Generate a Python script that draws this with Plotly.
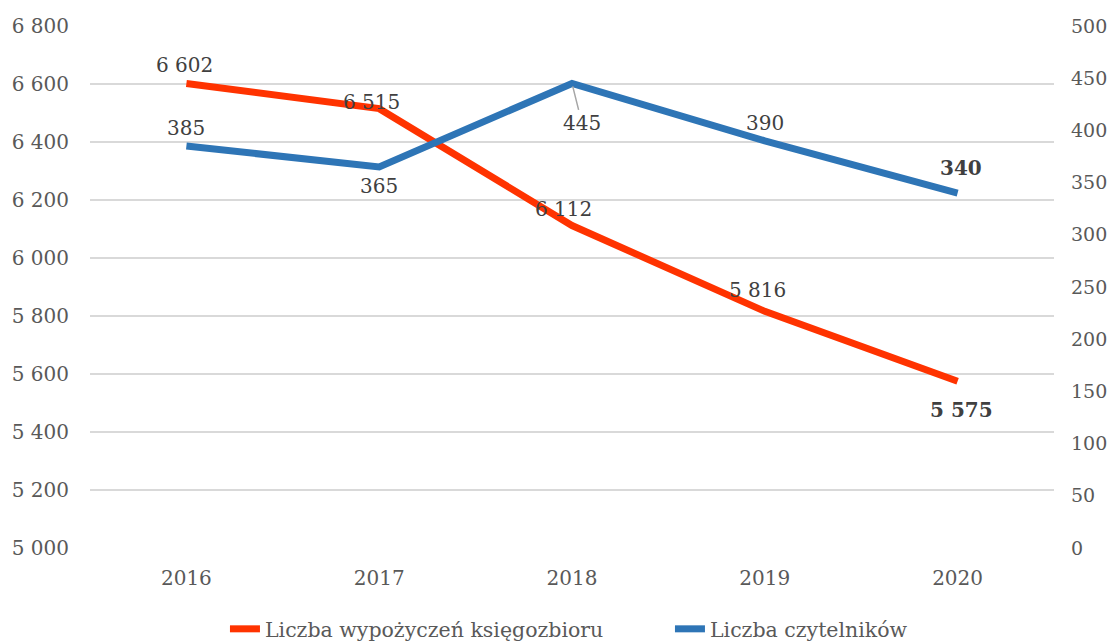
import plotly.graph_objects as go

years = ['2016', '2017', '2018', '2019', '2020']
wypozyczenia = [6602, 6515, 6112, 5816, 5575]
czytelnicy = [385, 365, 445, 390, 340]

left_ticks = list(range(5000, 6801, 200))
right_ticks = list(range(0, 501, 50))

RED = '#FF3300'
BLUE = '#2E75B6'
FONT = 'DejaVu Serif'


def fmt(v):
    # spacja jako separator tysięcy
    return f'{v:,}'.replace(',', ' ')


fig = go.Figure()
fig.add_trace(go.Scatter(
    x=years, y=wypozyczenia, mode='lines',
    name='Liczba wypożyczeń księgozbioru',
    line=dict(color=RED, width=7),
))
fig.add_trace(go.Scatter(
    x=years, y=czytelnicy, mode='lines', yaxis='y2',
    name='Liczba czytelników',
    line=dict(color=BLUE, width=7),
))

# przesunięcia etykiet (px)
red_shift = [(-2, 18), (-8, 7), (-9, 17), (-7, 21), (4, -29)]
blue_shift = [(0, 18), (0, -19), None, (0, 18), (3, 25)]

# na osi kategorii adnotacje ustawiamy po indeksie
for i, v in enumerate(wypozyczenia):
    last = i == len(years) - 1
    fig.add_annotation(
        x=i, y=v, yref='y', text=f'<b>{fmt(v)}</b>' if last else fmt(v),
        showarrow=False, xshift=red_shift[i][0], yshift=red_shift[i][1],
        font=dict(family=FONT, size=20, color='#404040'),
    )

for i, v in enumerate(czytelnicy):
    last = i == len(years) - 1
    txt = f'<b>{v}</b>' if last else str(v)
    if blue_shift[i] is None:
        fig.add_annotation(
            x=i, y=v, yref='y2', text=txt, showarrow=True,
            ax=10, ay=40, arrowhead=0, arrowwidth=1.5, arrowcolor='#A6A6A6',
            standoff=3, font=dict(family=FONT, size=20, color='#404040'),
        )
    else:
        fig.add_annotation(
            x=i, y=v, yref='y2', text=txt, showarrow=False,
            xshift=blue_shift[i][0], yshift=blue_shift[i][1],
            font=dict(family=FONT, size=20, color='#404040'),
        )

# strona ma 8px marginesu body, stąd 1111x635
fig.update_layout(
    width=1111, height=635,
    margin=dict(l=81.5, r=64.5, t=18, b=95, autoexpand=False),
    paper_bgcolor='white', plot_bgcolor='white',
    font=dict(family=FONT, size=20, color='#595959'),
    showlegend=True,
    legend=dict(
        orientation='h', x=0.14, xanchor='left',
        yref='container', y=14 / 635, yanchor='middle',
        entrywidth=400, entrywidthmode='pixels',
        font=dict(family=FONT, size=20.5, color='#595959'),
    ),
    xaxis=dict(
        type='category', range=[-0.5, 4.5], showgrid=False, zeroline=False,
        showline=False, ticks='', ticklabelstandoff=16, automargin=False,
    ),
    yaxis=dict(
        range=[5000, 6800], tickvals=left_ticks,
        ticktext=[fmt(t) for t in left_ticks],
        showgrid=True, gridcolor='#D9D9D9', gridwidth=2,
        zeroline=False, showline=False, ticks='', ticklabelstandoff=20,
        automargin=False,
    ),
    yaxis2=dict(
        range=[0, 500], tickvals=right_ticks, overlaying='y', side='right',
        showgrid=False, zeroline=False, showline=False, ticks='',
        ticklabelstandoff=16, automargin=False, tickfont=dict(size=19),
    ),
)

fig.write_html('out.html')
